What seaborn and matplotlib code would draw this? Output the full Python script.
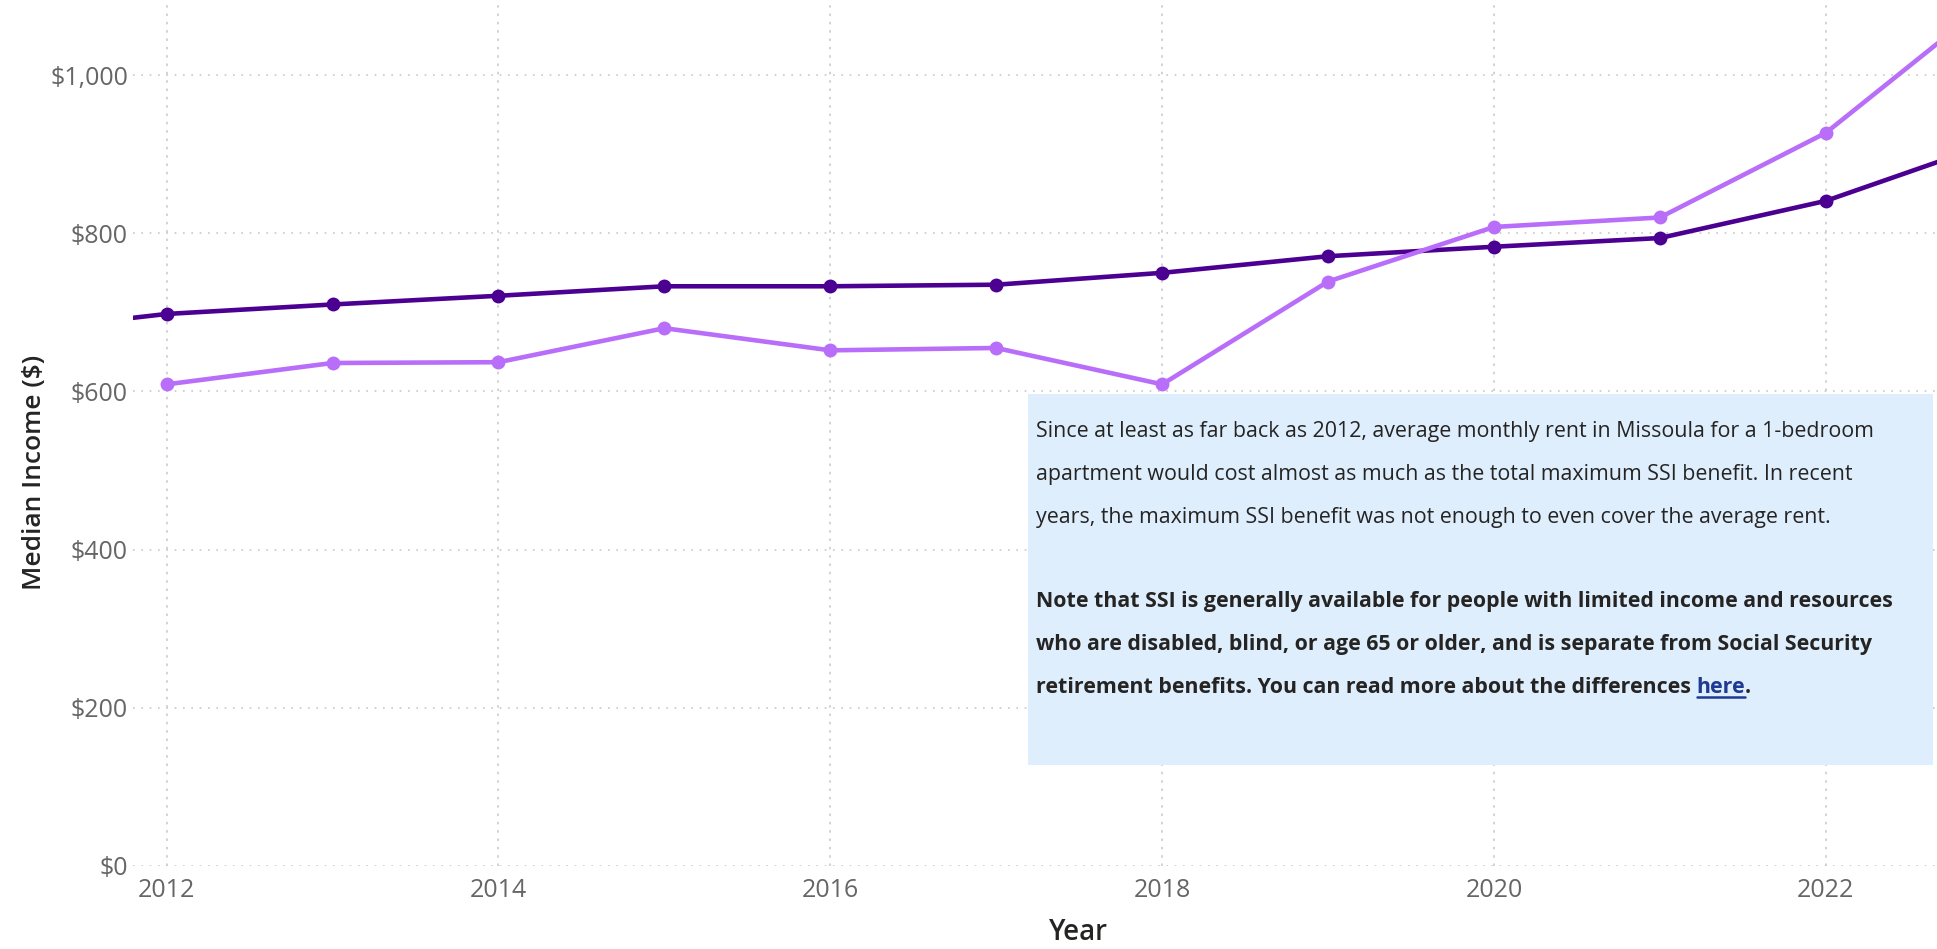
import numpy as np
import pandas as pd
import matplotlib
matplotlib.use("Agg")
import matplotlib.pyplot as plt
import seaborn as sns
from matplotlib.patches import Rectangle
from matplotlib.ticker import FuncFormatter

# ── Data ──────────────────────────────────────────────────────────────────────
ssi_years  = [2011, 2012, 2013, 2014, 2015, 2016, 2017, 2018, 2019, 2020, 2021, 2022, 2023]
ssi_values = [674, 698, 710, 721, 733, 733, 735, 750, 771, 783, 794, 841, 914]

rent_years  = [2012, 2013, 2014, 2015, 2016, 2017, 2018, 2019, 2020, 2021, 2022, 2023]
rent_values = [609, 636, 637, 680, 652, 655, 609, 739, 808, 820, 927, 1095]

SERIES  = ["Maximum SSI benefit", "Average 1-bedroom rent"]
PALETTE = {"Maximum SSI benefit": "#4B0092", "Average 1-bedroom rent": "#B86EF9"}

y_ticks = [0, 200, 400, 600, 800, 1000]
x_ticks = [2012, 2014, 2016, 2018, 2020, 2022]

note_lines = [
    "Since at least as far back as 2012, average monthly rent in Missoula for a 1-bedroom",
    "apartment would cost almost as much as the total maximum SSI benefit. In recent",
    "years, the maximum SSI benefit was not enough to even cover the average rent.",
]
bold_lines = [
    "Note that SSI is generally available for people with limited income and resources",
    "who are disabled, blind, or age 65 or older, and is separate from Social Security",
    "retirement benefits. You can read more about the differences ",
]
link_text = "here"

df = pd.concat([
    pd.DataFrame({"Year": ssi_years, "Value": ssi_values, "Series": SERIES[0]}),
    pd.DataFrame({"Year": rent_years, "Value": rent_values, "Series": SERIES[1]}),
], ignore_index=True)

# ── Plot ──────────────────────────────────────────────────────────────────────
sns.set_style("white")
plt.rcParams["font.family"] = ["Open Sans", "DejaVu Sans"]

fig = plt.figure(figsize=(19.37, 9.49), dpi=100)
ax = fig.add_axes([0.0689, 0.0875, 0.9311, 0.9125])

sns.lineplot(
    data=df, x="Year", y="Value", hue="Series", hue_order=SERIES,
    palette=PALETTE, marker="o", markersize=10, markeredgewidth=0,
    linewidth=3.3, legend=False, ax=ax,
)

ax.set_xlim(2011.8, 2022.67)
ax.set_ylim(0, 1095)
ax.set_xticks(x_ticks)
ax.set_yticks(y_ticks)
ax.yaxis.set_major_formatter(FuncFormatter(lambda v, _: f"${v:,.0f}"))
ax.tick_params(axis="both", length=0, labelsize=18, labelcolor="#666666")
ax.tick_params(axis="x", pad=9)
ax.tick_params(axis="y", pad=4)

ax.grid(axis="y", color="#C8C8C8", linestyle=(0, (1, 4)), linewidth=1.2)
ax.grid(axis="x", color="#CCCCCC", linestyle=(0, (1.5, 3.5)), linewidth=1.2)
ax.set_axisbelow(True)
for s in ax.spines.values():
    s.set_visible(False)

ax.set_xlabel("Year", fontsize=20, color="#252423", fontweight="semibold")
ax.set_ylabel("Median Income ($)", fontsize=19, color="#252423", fontweight="semibold")
ax.xaxis.set_label_coords(0.524, -0.077)
ax.xaxis.label.set_va("center")
ax.yaxis.set_label_coords(-0.055, 0.454)
ax.yaxis.label.set_va("center")

# ── Note box ──────────────────────────────────────────────────────────────────
W, H = 1937, 949
fig.patches.append(Rectangle(
    (1028 / W, 1 - 765 / H), (1933 - 1028) / W, (765 - 394) / H,
    transform=fig.transFigure, facecolor="#DEEEFD", edgecolor="none", zorder=5,
))

FS = 15.4
x0 = 1036 / W
for i, line in enumerate(note_lines):
    fig.text(x0, 1 - (432 + 42.7 * i) / H, line, fontsize=FS,
             color="#252423", va="center", zorder=6)

texts = []
for i, line in enumerate(bold_lines):
    t = fig.text(x0, 1 - (602 + 42.7 * i) / H, line, fontsize=FS,
                 color="#252423", va="center", fontweight="bold", zorder=6)
    texts.append(t)

renderer = fig.canvas.get_renderer()
last = texts[-1]
bb = last.get_window_extent(renderer)
y_last = 1 - (602 + 42.7 * 2) / H
link = fig.text(bb.x1 / W, y_last, link_text, fontsize=FS, color="#1F3A93",
                va="center", fontweight="bold", zorder=6)
lb = link.get_window_extent(renderer)
fig.text(lb.x1 / W, y_last, ".", fontsize=FS, color="#252423",
         va="center", fontweight="bold", zorder=6)
fig.lines.append(plt.Line2D([lb.x0 / W, lb.x1 / W], [(lb.y0 + 1) / H] * 2,
                            transform=fig.transFigure, color="#1F3A93",
                            linewidth=1.8, zorder=6))

fig.savefig("out.png", dpi=100)
